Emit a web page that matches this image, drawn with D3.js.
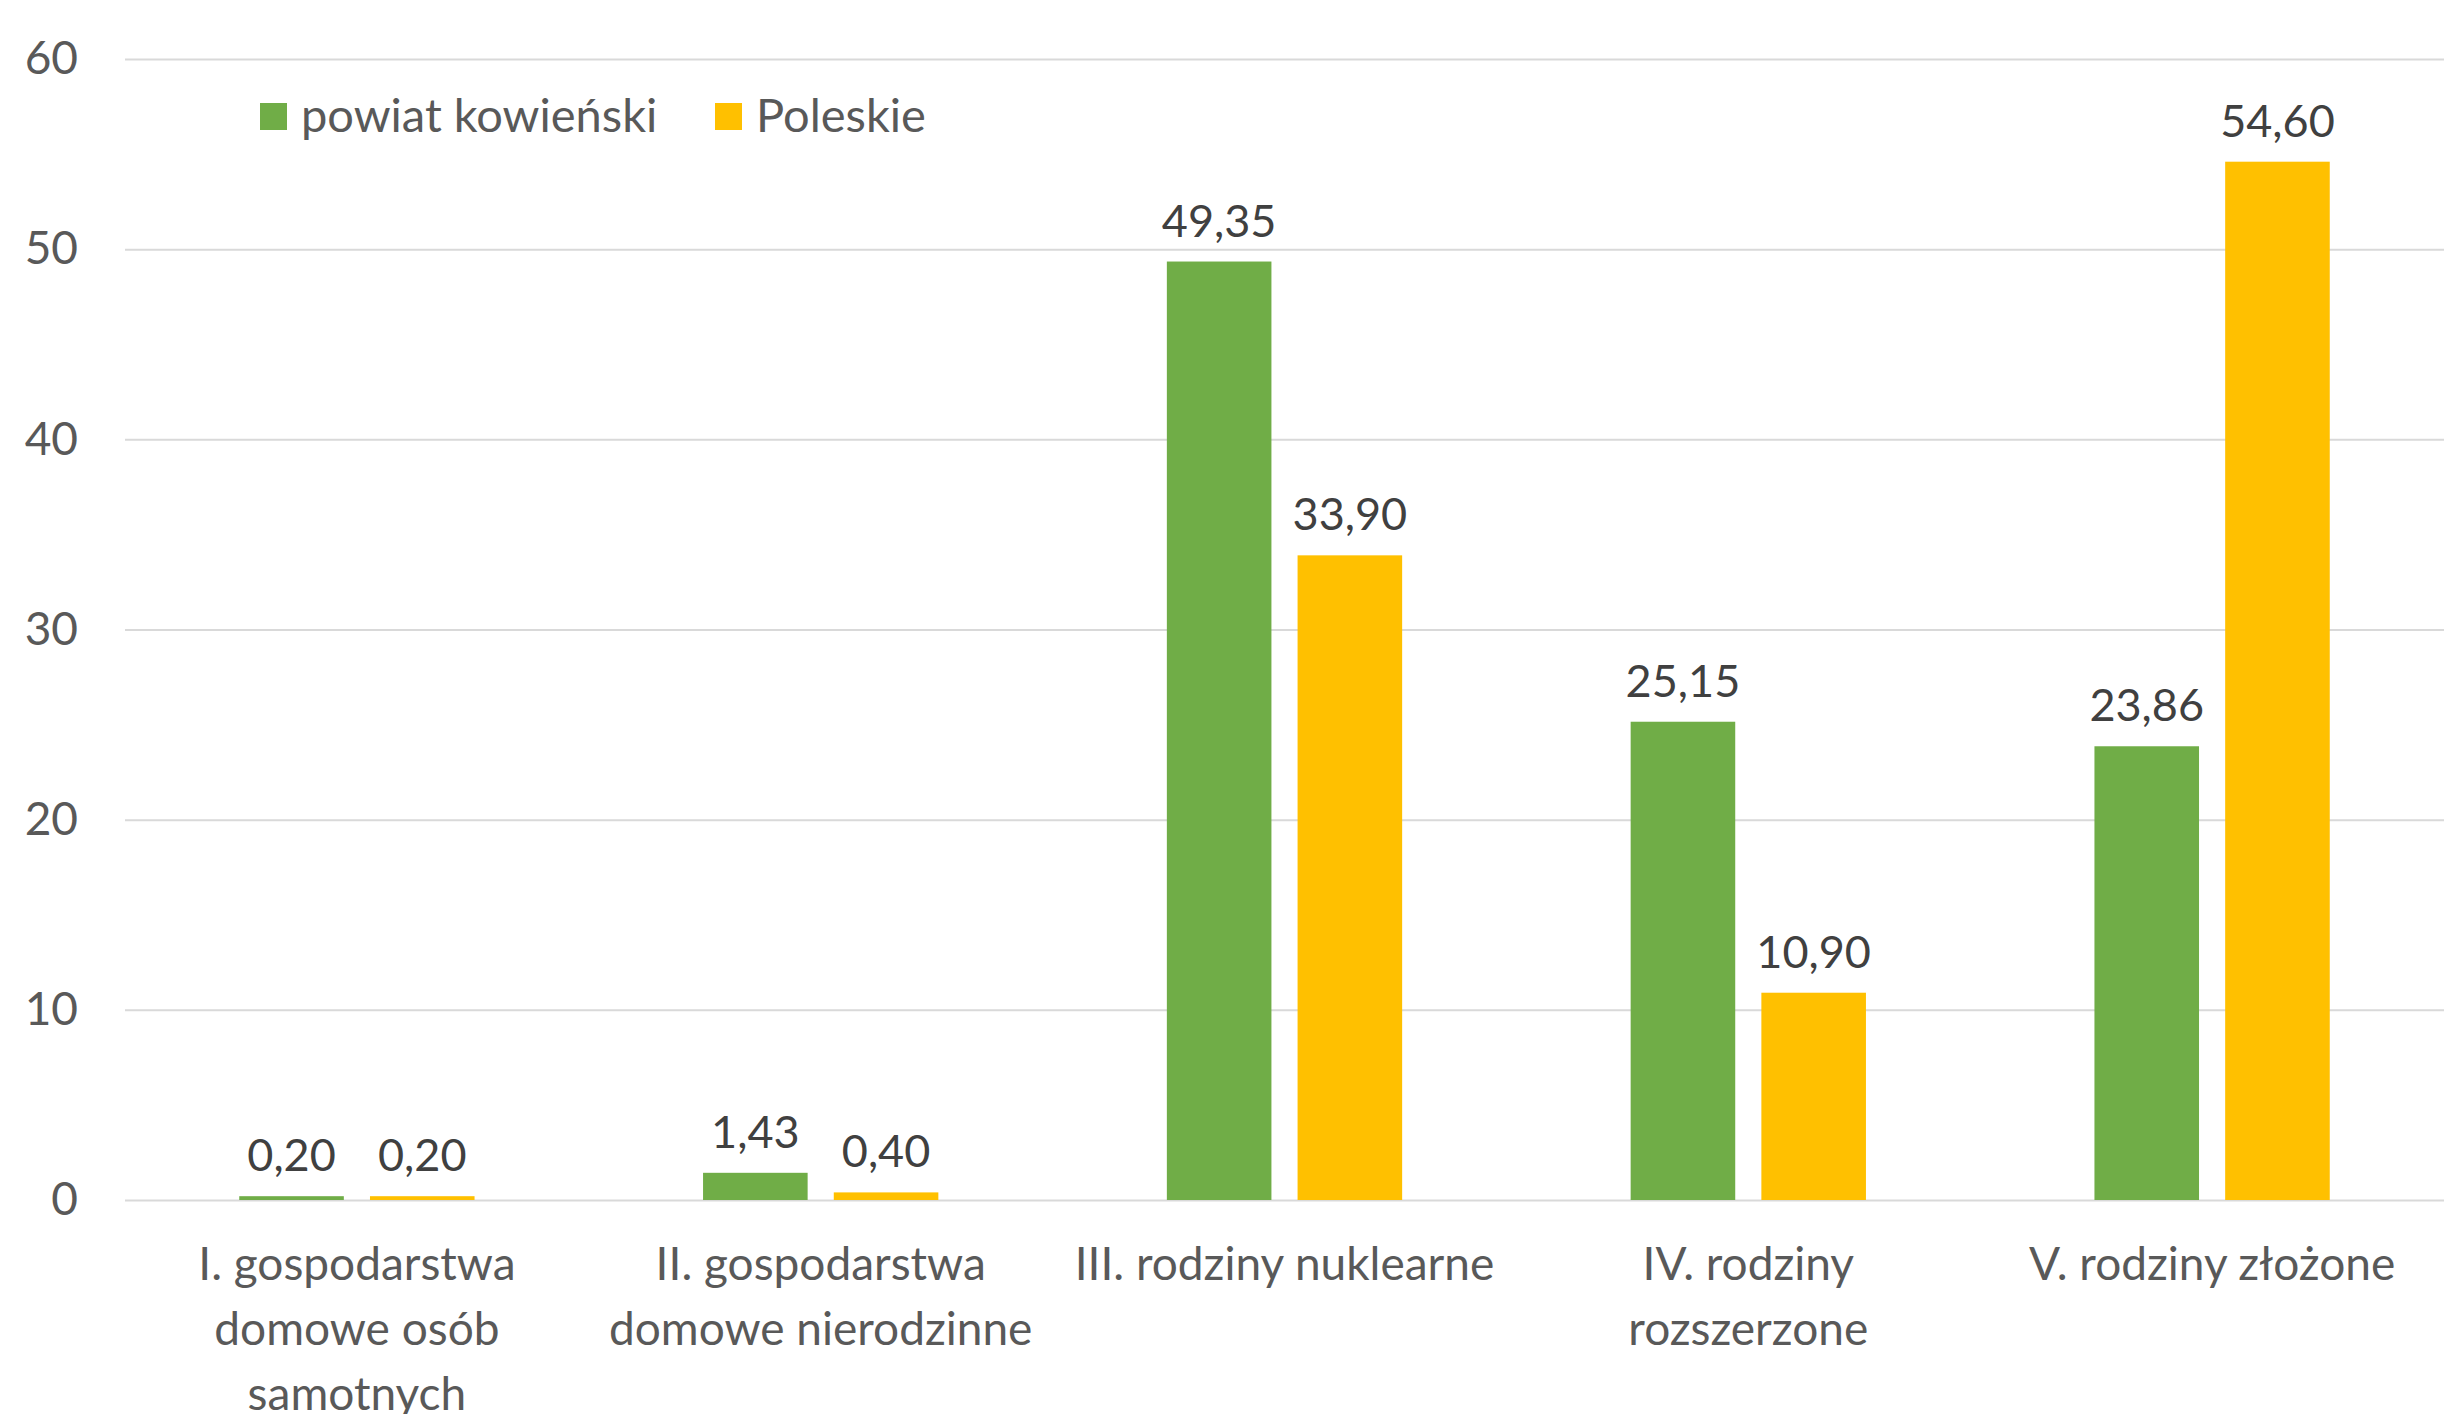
<!DOCTYPE html>
<html>
<head>
<meta charset="utf-8">
<script src="https://cdn.jsdelivr.net/npm/d3@7"></script>
<style>
  body { margin: 0; background: #fff; }
  text { font-family: Lato, "Open Sans", sans-serif; }
</style>
</head>
<body>
<div id="chart"></div>
<script>
const categories = ['I', 'II', 'III', 'IV', 'V'];
const categoryLines = [
  ['I. gospodarstwa', 'domowe osób', 'samotnych'],
  ['II. gospodarstwa', 'domowe nierodzinne'],
  ['III. rodziny nuklearne'],
  ['IV. rodziny', 'rozszerzone'],
  ['V. rodziny złożone']
];
const seriesNames = ['powiat kowieński', 'Poleskie'];
const kowienski = [0.20, 1.43, 49.35, 25.15, 23.86];
const poleskie = [0.20, 0.40, 33.90, 10.90, 54.60];
const yTicks = [0, 10, 20, 30, 40, 50, 60];
const colors = ['#70AD47', '#FFC000'];

const width = 2444, height = 1414,
      margin = {top: 59, bottom: 214, left: 125, right: 0};

const fmt = v => v.toFixed(2).replace('.', ',');

const svg = d3.select('#chart').append('svg')
  .attr('width', width)
  .attr('height', height);

const x0 = d3.scaleBand()
  .domain(categories)
  .range([margin.left, width - margin.right])
  .padding(0);

const x1 = d3.scaleBand()
  .domain(seriesNames)
  .range([0, x0.bandwidth()])
  .paddingInner(0.2)
  .paddingOuter(0.874);

const y = d3.scaleLinear()
  .domain([0, 60])
  .range([height - margin.bottom, margin.top]);

// gridlines + y labels
const yAxis = svg.append('g')
  .attr('transform', 'translate(' + margin.left + ',0)')
  .call(d3.axisLeft(y).tickValues(yTicks).tickSize(-(width - margin.left - margin.right)).tickPadding(47).tickFormat(d3.format('d')));
yAxis.select('.domain').remove();
yAxis.selectAll('.tick line').attr('stroke', '#d9d9d9').attr('stroke-width', 2);
yAxis.selectAll('.tick text')
  .attr('fill', '#595959')
  .style('font-size', '46px');

const data = categories.map((c, i) => ({
  cat: c,
  values: [
    {series: seriesNames[0], value: kowienski[i]},
    {series: seriesNames[1], value: poleskie[i]}
  ]
}));

const groups = svg.selectAll('g.grp')
  .data(data)
  .enter()
  .append('g')
    .attr('class', 'grp')
    .attr('transform', d => 'translate(' + x0(d.cat) + ',0)');

groups.selectAll('rect')
  .data(d => d.values)
  .enter()
  .append('rect')
    .attr('x', d => x1(d.series))
    .attr('y', d => y(d.value))
    .attr('width', x1.bandwidth())
    .attr('height', d => y(0) - y(d.value))
    .attr('fill', (d, i) => colors[i]);

groups.selectAll('text.val')
  .data(d => d.values)
  .enter()
  .append('text')
    .attr('class', 'val')
    .attr('x', d => x1(d.series) + x1.bandwidth() / 2)
    .attr('y', d => y(d.value) - 25)
    .attr('text-anchor', 'middle')
    .attr('fill', '#404040')
    .style('font-size', '45px')
    .text(d => fmt(d.value));

// category labels
svg.selectAll('text.cat')
  .data(categories)
  .enter()
  .append('text')
    .attr('class', 'cat')
    .attr('text-anchor', 'middle')
    .attr('fill', '#595959')
    .style('font-size', '46px')
    .attr('transform', d => 'translate(' + (x0(d) + x0.bandwidth() / 2) + ',' + (y(0) + 80) + ')')
  .selectAll('tspan')
  .data((d, i) => categoryLines[i])
  .enter()
  .append('tspan')
    .attr('x', 0)
    .attr('dy', (d, i) => i === 0 ? 0 : 65)
    .text(d => d);

// legend
const legendX = [260, 715];
const legend = svg.selectAll('g.leg')
  .data(seriesNames)
  .enter()
  .append('g')
    .attr('class', 'leg')
    .attr('transform', (d, i) => 'translate(' + legendX[i] + ',103)');
legend.append('rect')
  .attr('width', 27).attr('height', 27)
  .attr('fill', (d, i) => colors[i]);
legend.append('text')
  .attr('x', 41)
  .attr('y', 29)
  .attr('fill', '#595959')
  .style('font-size', '47px')
  .text(d => d);
</script>
</body>
</html>
